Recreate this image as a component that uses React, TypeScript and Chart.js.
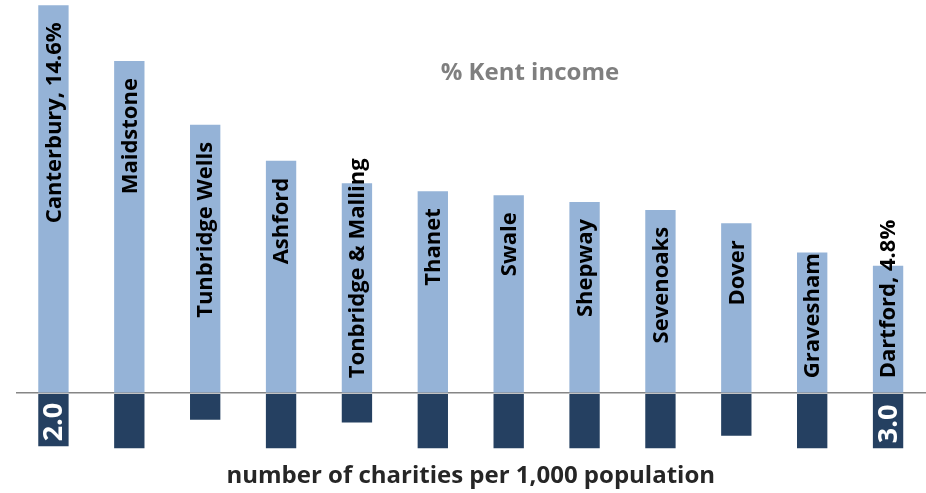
import { useEffect, useRef } from "react";
import { Chart, registerables } from "chart.js";

Chart.register(...registerables);

const districts = [
  "Canterbury",
  "Maidstone",
  "Tunbridge Wells",
  "Ashford",
  "Tonbridge & Malling",
  "Thanet",
  "Swale",
  "Shepway",
  "Sevenoaks",
  "Dover",
  "Gravesham",
  "Dartford",
];
const kentIncomePct = [14.6, 12.5, 10.1, 8.75, 7.9, 7.6, 7.45, 7.2, 6.9, 6.4, 5.3, 4.8];
const charitiesPer1000 = [2.0, 2.4, 1.0, 2.5, 1.1, 2.3, 2.6, 2.9, 2.7, 1.6, 2.2, 3.0];
const yMin = -2.07;
const yMax = 14.8;
const incomeTitle = "% Kent income";
const charitiesTitle = "number of charities per 1,000 population";

const LIGHT = "#95b3d7";
const DARK = "#254061";
const FONT = "'Open Sans'";

const labelPlugin = {
  id: "barLabels",
  afterDatasetsDraw(chart: any) {
    const ctx = chart.ctx;
    const yScale = chart.scales.y;
    const zeroY = yScale.getPixelForValue(0);
    const area = chart.chartArea;
    const upper = chart.getDatasetMeta(0).data;
    const lower = chart.getDatasetMeta(1).data;
    const last = districts.length - 1;

    ctx.save();
    ctx.textBaseline = "middle";
    ctx.textAlign = "left";
    ctx.font = `bold 22px ${FONT}`;
    ctx.fillStyle = "#000000";
    upper.forEach((bar: any, i: number) => {
      const text =
        i === 0 || i === last
          ? `${districts[i]}, ${kentIncomePct[i].toFixed(1)}%`
          : districts[i];
      const w = ctx.measureText(text).width;
      const start = Math.min(bar.y + 17 + w, zeroY - 15);
      ctx.save();
      ctx.translate(bar.x + 1, start);
      ctx.rotate(-Math.PI / 2);
      ctx.fillText(text, 0, 0);
      ctx.restore();
    });

    ctx.font = `bold 27px ${FONT}`;
    ctx.fillStyle = "#ffffff";
    [0, last].forEach((i) => {
      const bar: any = lower[i];
      const bottom = Math.min(bar.y, area.bottom);
      ctx.save();
      ctx.translate(bar.x + 1, bottom - 5);
      ctx.rotate(-Math.PI / 2);
      ctx.fillText(charitiesPer1000[i].toFixed(1), 0, 0);
      ctx.restore();
    });
    ctx.restore();
  },
  afterDraw(chart: any) {
    const ctx = chart.ctx;
    const area = chart.chartArea;
    ctx.save();
    ctx.font = `bold 24px ${FONT}`;
    ctx.fillStyle = "#7f7f7f";
    ctx.textAlign = "center";
    ctx.textBaseline = "middle";
    ctx.fillText(incomeTitle, area.left + (area.right - area.left) * 0.565, 73);
    ctx.restore();
  },
};

export default function App() {
  const canvasRef = useRef<HTMLCanvasElement | null>(null);

  useEffect(() => {
    if (!canvasRef.current) return;
    const chart = new Chart(canvasRef.current, {
      type: "bar",
      data: {
        labels: districts,
        datasets: [
          {
            label: incomeTitle,
            data: kentIncomePct,
            backgroundColor: LIGHT,
            clip: 0,
          },
          {
            label: charitiesTitle,
            data: charitiesPer1000.map((v) => -v),
            backgroundColor: DARK,
            clip: 0,
          },
        ],
      },
      options: {
        animation: false,
        responsive: true,
        maintainAspectRatio: false,
        layout: { padding: { left: 15.5, right: 0, top: 0, bottom: 0 } },
        datasets: { bar: { categoryPercentage: 1, barPercentage: 0.4 } },
        plugins: {
          legend: { display: false },
          tooltip: { enabled: false },
          title: { display: false },
        },
        scales: {
          x: {
            stacked: true,
            display: true,
            grid: { display: false, drawTicks: false },
            border: { display: false },
            ticks: { display: false },
            title: {
              display: true,
              text: charitiesTitle,
              color: "#262626",
              font: { family: FONT, size: 24, weight: "bold" },
              padding: { top: 14, bottom: 2 },
            },
          },
          y: {
            stacked: true,
            display: true,
            min: yMin,
            max: yMax,
            z: 1,
            border: { display: false },
            ticks: { display: false, stepSize: 1 },
            grid: {
              drawTicks: false,
              lineWidth: 1.5,
              color: (c: any) => (c.tick && c.tick.value === 0 ? "#868686" : "rgba(0,0,0,0)"),
            },
          },
        },
      },
      plugins: [labelPlugin],
    });
    return () => chart.destroy();
  }, []);

  return (
    <div style={{ position: "absolute", left: 0, top: 0, width: 926, height: 493 }}>
      <canvas ref={canvasRef} />
    </div>
  );
}
